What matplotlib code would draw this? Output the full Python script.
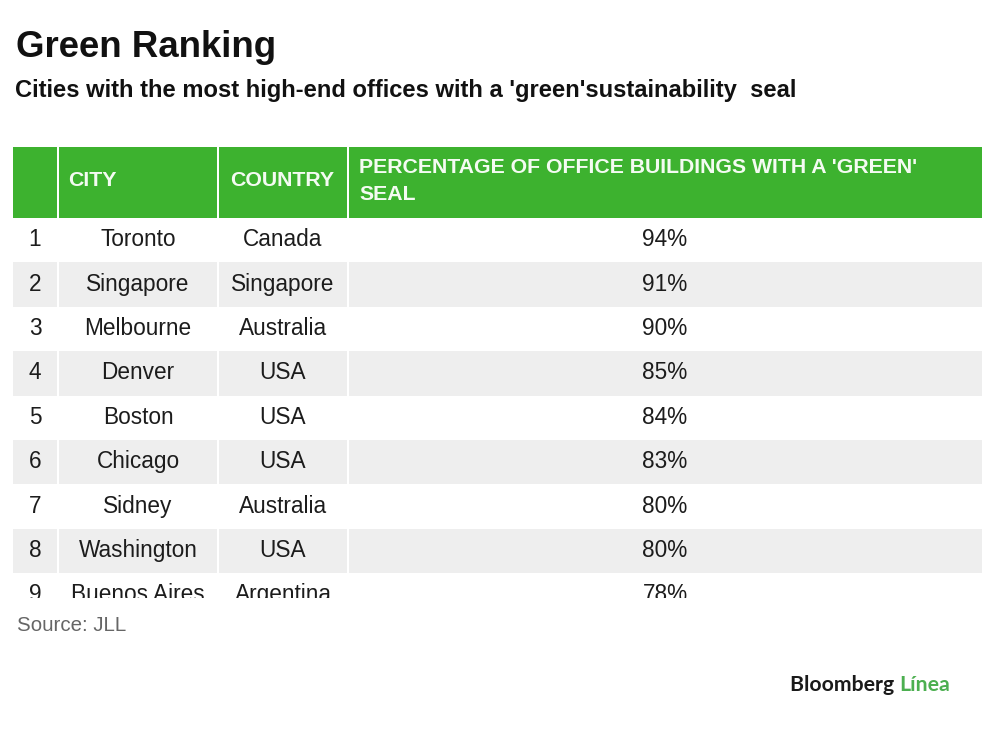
import matplotlib
matplotlib.use("Agg")
import matplotlib.pyplot as plt
from matplotlib.patches import Rectangle
from matplotlib.transforms import Bbox, TransformedBbox

ranks = ["1", "2", "3", "4", "5", "6", "7", "8", "9"]
cities = ["Toronto", "Singapore", "Melbourne", "Denver", "Boston", "Chicago",
          "Sidney", "Washington", "Buenos Aires"]
countries = ["Canada", "Singapore", "Australia", "USA", "USA", "USA",
             "Australia", "USA", "Argentina"]
percent = [94, 91, 90, 85, 84, 83, 80, 80, 78]
headers = ["", "CITY", "COUNTRY", "PERCENTAGE OF OFFICE BUILDINGS WITH A 'GREEN'\nSEAL"]

title = "Green Ranking"
subtitle = "Cities with the most high-end offices with a 'green'sustainability  seal"
source = "Source: JLL"

GREEN = "#3db22f"
GRAY = "#eeeeee"
TXT = "#1c1c1c"

fig = plt.figure(figsize=(10, 7.33), dpi=100)
ax = fig.add_axes([0, 0, 1, 1])
ax.set_xlim(0, 1000)
ax.set_ylim(733, 0)
ax.axis("off")

FONT = "Liberation Sans"

fig.text(0.016, 1 - 57 / 733, title, fontsize=26.4, fontweight="bold",
         family=FONT, color="#111111", va="baseline")
fig.text(0.015, 1 - 97 / 733, subtitle, fontsize=17.1, fontweight="bold",
         family=FONT, color="#111111", va="baseline")

# column edges in px
col_edges = [13, 58, 218, 348, 982]
header_top, header_bot = 147, 218
row_h = 44.4
clip_y = 598
sep = 2

# header
for i in range(4):
    x0, x1 = col_edges[i], col_edges[i + 1]
    ax.add_patch(Rectangle((x0 + (sep / 2 if i > 0 else 0), header_top),
                           x1 - x0 - (sep / 2 if i > 0 else 0) - (sep / 2 if i < 3 else 0),
                           header_bot - header_top, color=GREEN, lw=0))
HC = "#f4fbf2"
ax.text(68, 181, headers[1], fontsize=15.3, fontweight="bold", family=FONT,
        color=HC, va="center", ha="left")
ax.text(230, 181, headers[2], fontsize=15.3, fontweight="bold", family=FONT,
        color=HC, va="center", ha="left")
ax.text(359, 181, headers[3], fontsize=15.3, fontweight="bold", family=FONT,
        color=HC, va="center", ha="left", linespacing=1.55)

clipbox = TransformedBbox(Bbox([[0, 0], [1000, clip_y]]), ax.transData)

for r in range(len(ranks)):
    y0 = header_bot + r * row_h
    if r % 2 == 1:
        for i in range(4):
            x0, x1 = col_edges[i], col_edges[i + 1]
            ax.add_patch(Rectangle((x0 + (sep / 2 if i > 0 else 0), y0),
                                   x1 - x0 - (sep / 2 if i > 0 else 0) - (sep / 2 if i < 3 else 0),
                                   row_h, color=GRAY, lw=0))
    yc = y0 + row_h / 2 - 0.5
    vals = [ranks[r], cities[r], countries[r], f"{percent[r]}%"]
    xcs = [35, 138, 283, 665]
    for i, v in enumerate(vals):
        t = ax.text(xcs[i], yc, v, fontsize=16.3, family=FONT, color=TXT,
                    ha="center", va="center", clip_on=True)
        t.set_clip_box(clipbox)

fig.text(0.017, 1 - 631 / 733, source, fontsize=14.8, family=FONT,
         color="#666666", va="baseline")

t1 = fig.text(0.790, 1 - 691 / 733, "Bloomberg ", fontsize=15.3, family="Lato",
              fontweight="bold", color="#1a1a1a", va="baseline")
fig.canvas.draw()
bb = t1.get_window_extent()
fig.text(bb.x1 / 1000, 1 - 691 / 733, "Línea", fontsize=15.3, family="Lato",
         fontweight="bold", color="#4caf50", va="baseline")

fig.savefig("out.png", dpi=100)
